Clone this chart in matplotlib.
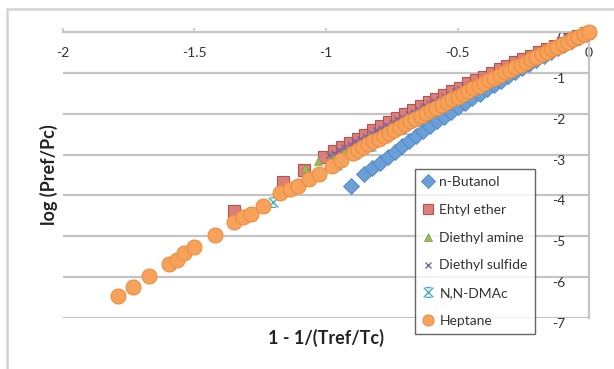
import matplotlib
matplotlib.use("Agg")
import matplotlib.pyplot as plt
from matplotlib.lines import Line2D
from matplotlib.patches import Rectangle
from matplotlib.path import Path
from matplotlib.ticker import FormatStrFormatter

plt.rcParams['font.family'] = ['Lato', 'DejaVu Sans']
plt.rcParams['axes.unicode_minus'] = False

# Reduced temperature term vs log of reduced pressure, one list pair per compound
butanol_x = [-0.905, -0.857, -0.825, -0.795, -0.765, -0.738, -0.712, -0.685, -0.658, -0.632,
             -0.605, -0.578, -0.551, -0.524, -0.497, -0.470, -0.443, -0.416, -0.389, -0.362,
             -0.335, -0.308, -0.281, -0.254, -0.227, -0.200, -0.173, -0.146, -0.119, -0.092,
             -0.065, -0.038, -0.011]
butanol_y = [-3.76, -3.48, -3.34, -3.21, -3.06, -2.93, -2.79, -2.66, -2.54, -2.42,
             -2.30, -2.19, -2.07, -1.95, -1.84, -1.73, -1.62, -1.51, -1.40, -1.29,
             -1.19, -1.08, -0.98, -0.88, -0.78, -0.68, -0.59, -0.49, -0.40, -0.30,
             -0.21, -0.12, -0.04]

ether_x = [-1.349, -1.164, -1.085, -1.006, -0.97, -0.94, -0.91, -0.88, -0.85, -0.82,
           -0.79, -0.76, -0.73, -0.70, -0.67, -0.64, -0.61, -0.58, -0.55, -0.52,
           -0.49, -0.46, -0.43, -0.40, -0.37, -0.34, -0.31, -0.28, -0.25, -0.22,
           -0.19, -0.16, -0.13, -0.10, -0.07, -0.04, -0.01]
ether_y = [-4.38, -3.67, -3.38, -3.05, -2.92, -2.82, -2.71, -2.61, -2.51, -2.41,
           -2.31, -2.21, -2.11, -2.01, -1.92, -1.82, -1.72, -1.63, -1.54, -1.45,
           -1.36, -1.26, -1.18, -1.09, -1.00, -0.91, -0.83, -0.74, -0.66, -0.58,
           -0.50, -0.42, -0.34, -0.26, -0.18, -0.10, -0.03]

amine_x = [-1.08, -1.03, -0.98, -0.93, -0.88, -0.83, -0.78, -0.73, -0.68, -0.63,
           -0.58, -0.53, -0.48, -0.43, -0.38, -0.33, -0.28, -0.23, -0.18, -0.13,
           -0.08, -0.03]
amine_y = [-3.33, -3.16, -2.98, -2.93, -2.76, -2.58, -2.41, -2.24, -2.07, -1.90,
           -1.74, -1.58, -1.42, -1.26, -1.10, -0.95, -0.80, -0.65, -0.51, -0.37,
           -0.22, -0.08]

sulfide_x = [-0.99, -0.97, -0.95, -0.93, -0.91, -0.89, -0.87, -0.85, -0.83, -0.81,
             -0.79, -0.77, -0.75, -0.73, -0.71, -0.69, -0.67, -0.65, -0.63, -0.61,
             -0.59, -0.57, -0.55, -0.53, -0.51, -0.49, -0.47, -0.45]
sulfide_y = [-3.02, -2.95, -2.88, -2.81, -2.74, -2.68, -2.61, -2.54, -2.47, -2.40,
             -2.34, -2.27, -2.21, -2.14, -2.07, -2.01, -1.95, -1.88, -1.82, -1.75,
             -1.69, -1.63, -1.57, -1.51, -1.45, -1.39, -1.33, -1.27]

dmac_x = [-1.20, -1.11, -1.03, -0.96, -0.89, -0.83, -0.77, -0.71, -0.65, -0.59,
          -0.53, -0.47, -0.41, -0.35, -0.29, -0.23, -0.17, -0.11, -0.05]
dmac_y = [-4.17, -3.80, -3.50, -3.25, -2.99, -2.78, -2.58, -2.37, -2.16, -1.95,
          -1.75, -1.55, -1.35, -1.15, -0.96, -0.77, -0.58, -0.38, -0.19]

heptane_x = [-1.791, -1.732, -1.673, -1.598, -1.568, -1.539, -1.501, -1.422, -1.348, -1.315,
             -1.286, -1.241, -1.174, -1.137, -1.107, -1.063, -1.025, -0.976, -0.944, -0.899,
             -0.88, -0.86, -0.84, -0.82, -0.80, -0.78, -0.76, -0.74, -0.72, -0.70,
             -0.68, -0.66, -0.64, -0.62, -0.60, -0.58, -0.56, -0.54, -0.52, -0.50,
             -0.48, -0.46, -0.44, -0.42, -0.40, -0.38, -0.36, -0.34, -0.32, -0.30,
             -0.28, -0.26, -0.24, -0.22, -0.20, -0.18, -0.16, -0.14, -0.12, -0.10,
             -0.08, -0.06, -0.04, -0.02, 0.00]
heptane_y = [-6.47, -6.24, -5.96, -5.69, -5.57, -5.42, -5.26, -4.98, -4.66, -4.54,
             -4.46, -4.27, -3.94, -3.85, -3.77, -3.60, -3.48, -3.28, -3.14, -2.97,
             -2.90, -2.82, -2.75, -2.68, -2.61, -2.54, -2.47, -2.40, -2.33, -2.26,
             -2.19, -2.12, -2.05, -1.98, -1.92, -1.85, -1.78, -1.71, -1.65, -1.58,
             -1.51, -1.45, -1.38, -1.31, -1.25, -1.18, -1.12, -1.05, -0.99, -0.93,
             -0.86, -0.80, -0.74, -0.67, -0.61, -0.55, -0.49, -0.42, -0.36, -0.30,
             -0.24, -0.18, -0.12, -0.06, 0.00]

x_ticks = [-2, -1.5, -1, -0.5, 0]
y_ticks = [0, -1, -2, -3, -4, -5, -6, -7]

# x with short caps top and bottom, like the spreadsheet "star" marker
star = Path([(-1, -1), (1, 1), (-1, 1), (1, -1), (-0.6, 1), (0.6, 1), (-0.6, -1), (0.6, -1)],
            [Path.MOVETO, Path.LINETO, Path.MOVETO, Path.LINETO,
             Path.MOVETO, Path.LINETO, Path.MOVETO, Path.LINETO])

series = [
    ("n-Butanol", butanol_x, butanol_y, dict(marker='D', ms=8.5, mfc='#6a9fd8', mec='#4f86c6', mew=0.6)),
    ("Ehtyl ether", ether_x, ether_y, dict(marker='s', ms=8, mfc='#dc7f7b', mec='#b9504c', mew=0.8)),
    ("Diethyl amine", amine_x, amine_y, dict(marker='^', ms=5.5, mfc='#9bbb59', mec='#7e9c40', mew=0.5)),
    ("Diethyl sulfide", sulfide_x, sulfide_y, dict(marker='x', ms=4.5, mec='#8064a2', mew=1.0)),
    ("N,N-DMAc", dmac_x, dmac_y, dict(marker=star, ms=7, mfc='none', mec='#4bacc6', mew=1.0)),
    ("Heptane", heptane_x, heptane_y, dict(marker='o', ms=10.8, mfc='#f7a25a', mec='#e98a3c', mew=0.7)),
]

fig = plt.figure(figsize=(6.14, 3.69), dpi=100)
ax = fig.add_axes([0.1026, 0.1382, 0.8567, 0.7751])

handles = []
for name, xs, ys, style in series:
    ax.plot(xs, ys, linestyle='none', clip_on=False, zorder=3, **style)
    small = dict(style)
    small['ms'] = min(style['ms'], 7) if name != "Heptane" else 8
    handles.append(Line2D([], [], linestyle='none', label=name, **small))

ax.set_xlim(-2, 0)
ax.set_ylim(-7, 0)

# axes cross at the origin, so the frame sits on the top and right edges
axis_grey = '#c4c4c4'
for side in ['top', 'right']:
    ax.spines[side].set_visible(False)
ax.spines['bottom'].set_position(('data', 0))
ax.spines['left'].set_position(('data', 0))
for side in ['bottom', 'left']:
    ax.spines[side].set_color(axis_grey)
    ax.spines[side].set_linewidth(1.6)
    ax.spines[side].set_zorder(1)

ax.set_xticks(x_ticks)
ax.set_yticks(y_ticks)
ax.xaxis.set_major_formatter(FormatStrFormatter('%g'))
ax.yaxis.set_major_formatter(FormatStrFormatter('%g'))
ax.tick_params(axis='x', direction='in', length=3, width=1.2, color=axis_grey,
               pad=11, labelsize=10, labelcolor='#333333')
ax.tick_params(axis='y', direction='in', length=0, pad=17, labelsize=10,
               labelcolor='#333333')
for lab in ax.get_yticklabels():
    lab.set_va('top')
    lab.set_zorder(4)
ax.yaxis.grid(True, color=axis_grey, linewidth=1.6, zorder=0)
ax.set_axisbelow(True)

ax.set_xlabel("1 - 1/(Tref/Tc)", fontsize=13, fontweight='bold', color='#222222')
ax.xaxis.label.set_va('center')
ax.xaxis.set_label_coords(0.5, -0.07)
ax.set_ylabel("log (Pref/Pc)", fontsize=13, fontweight='bold', color='#222222')
ax.yaxis.label.set_va('center')
ax.yaxis.set_label_coords(-0.027, 0.5)

leg = fig.legend(handles=handles, loc='upper left', bbox_to_anchor=(0.676, 0.542),
                 frameon=True, fancybox=False, fontsize=10, labelspacing=1.14,
                 handlelength=0.8, handletextpad=0.45, borderpad=0.5,
                 borderaxespad=0, labelcolor='#333333')
leg.get_frame().set_edgecolor('#404040')
leg.get_frame().set_linewidth(1.0)
leg.set_zorder(5)

# chart area border
fig.add_artist(Rectangle((7 / 614, -0.2), 1.2, 1.2 - 9 / 369, transform=fig.transFigure,
                         fill=False, edgecolor='#d4d4d4', linewidth=1.8))

fig.savefig("out.png", dpi=100)
